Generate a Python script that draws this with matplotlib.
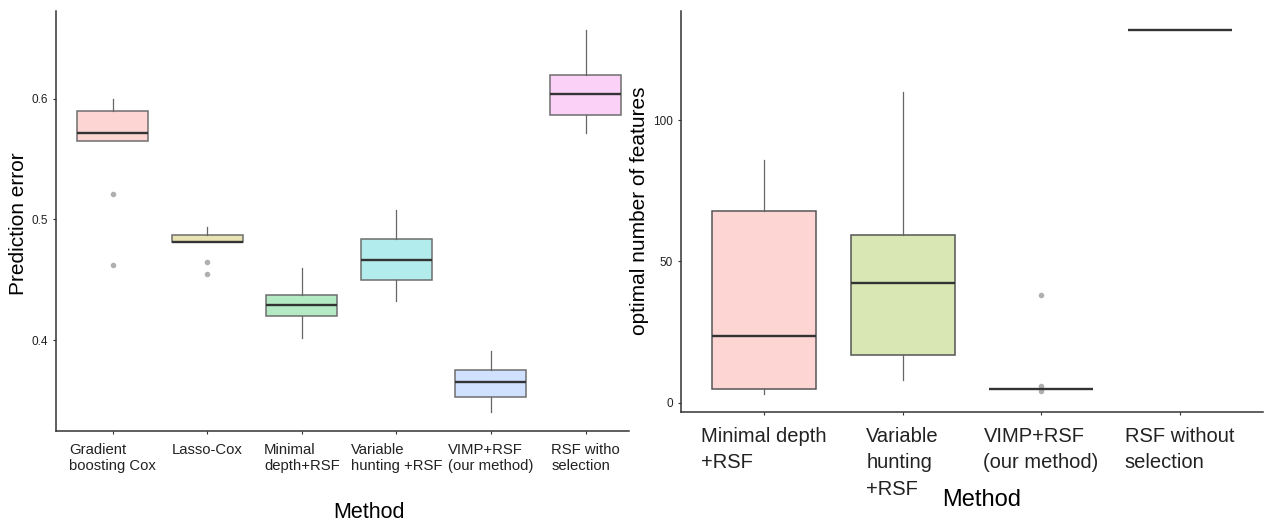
import matplotlib
matplotlib.use('Agg')
import matplotlib.pyplot as plt
from matplotlib import font_manager

# 字体：左图的刻度标签看起来是窄体
names = {f.name for f in font_manager.fontManager.ttflist}
narrow = 'Liberation Sans Narrow' if 'Liberation Sans Narrow' in names else None
plt.rcParams['font.family'] = ['Liberation Sans', 'DejaVu Sans']

# 左图：预测误差
left_methods = ['Gradient\nboosting Cox', 'Lasso-Cox', 'Minimal\ndepth+RSF',
                'Variable\nhunting +RSF', 'VIMP+RSF\n(our method)', 'RSF witho\nselection']
left_whislo = [0.565, 0.481, 0.402, 0.432, 0.340, 0.572]
left_q1 = [0.565, 0.481, 0.420, 0.450, 0.353, 0.587]
left_med = [0.572, 0.481, 0.429, 0.466, 0.365, 0.604]
left_q3 = [0.590, 0.487, 0.437, 0.484, 0.375, 0.620]
left_whishi = [0.600, 0.494, 0.460, 0.508, 0.391, 0.657]
left_fliers = [[0.521, 0.462], [0.4645, 0.4545], [], [], [], []]
left_colors = ['#F8766D', '#B79F00', '#00BA38', '#00BFC4', '#619CFF', '#F564E3']

# 右图：最优特征数
right_methods = ['Minimal depth\n+RSF', 'Variable\nhunting\n+RSF',
                 'VIMP+RSF\n(our method)', 'RSF without\nselection']
right_whislo = [3, 8, 5, 132]
right_q1 = [5, 17, 5, 132]
right_med = [23.5, 42.5, 5, 132]
right_q3 = [68, 59.5, 5, 132]
right_whishi = [86, 110, 5, 132]
right_fliers = [[], [], [38, 6, 4], []]
right_colors = ['#F8766D', '#7CAE00', '#00BFC4', '#C77CFF']


def blend(c, a=0.3):
    r, g, b = matplotlib.colors.to_rgb(c)
    return (1 - a + a * r, 1 - a + a * g, 1 - a + a * b)


def draw(ax, methods, lo, q1, med, q3, hi, fl, colors, edge):
    stats = []
    for i in range(len(methods)):
        stats.append(dict(whislo=lo[i], q1=q1[i], med=med[i], q3=q3[i],
                          whishi=hi[i], fliers=fl[i]))
    pos = list(range(1, len(methods) + 1))
    bp = ax.bxp(stats, positions=pos, widths=0.75, patch_artist=True,
                showcaps=False,
                boxprops=dict(edgecolor=edge, linewidth=1.1),
                whiskerprops=dict(color='#666666', linewidth=0.9),
                medianprops=dict(color='#333333', linewidth=1.7),
                flierprops=dict(marker='o', markersize=3.0, markerfacecolor='#b0b0b0',
                                markeredgecolor='#b0b0b0'))
    for patch, c in zip(bp['boxes'], colors):
        patch.set_facecolor(blend(c))
    for s in ['top', 'right']:
        ax.spines[s].set_visible(False)
    for s in ['left', 'bottom']:
        ax.spines[s].set_color('#333333')
        ax.spines[s].set_linewidth(1.1)
    ax.tick_params(length=2.5, color='#333333', labelcolor='#222222')
    ax.set_xticks(pos)
    ax.set_xticklabels(methods)
    for t in ax.get_xticklabels():
        t.set_multialignment('left')


fig = plt.figure(figsize=(12.66, 5.27), dpi=100)

ax1 = fig.add_axes([56 / 1266, 1 - 431 / 527, 573 / 1266, 420 / 527])
draw(ax1, left_methods, left_whislo, left_q1, left_med, left_q3, left_whishi,
     left_fliers, left_colors, '#6e6e6e')
ax1.set_xlim(0.4, 6.46)
ax1.set_ylim(0.3245, 0.673)
ax1.set_yticks([0.4, 0.5, 0.6])
ax1.set_yticklabels(['0.4', '0.5', '0.6'])
small_family = [narrow, 'Liberation Sans'] if narrow else ['Liberation Sans']
for t in ax1.get_xticklabels():
    t.set_fontfamily(small_family)
    t.set_fontsize(13 if narrow else 10.7)
for t in ax1.get_yticklabels():
    t.set_fontfamily(small_family)
    t.set_fontsize(9 if narrow else 8.5)
ax1.tick_params(axis='x', pad=6)
ax1.set_ylabel('Prediction error', fontsize=15)
ax1.yaxis.set_label_coords(-0.066, 0.493)
ax1.yaxis.label.set_va('center')
ax1.set_xlabel('Method', fontsize=15.5)
ax1.xaxis.set_label_coords(0.546, -0.207)
ax1.xaxis.label.set_va('baseline')

ax2 = fig.add_axes([681 / 1266, 1 - 412.3 / 527, 581.7 / 1266, 401.3 / 527])
draw(ax2, right_methods, right_whislo, right_q1, right_med, right_q3, right_whishi,
     right_fliers, right_colors, '#555555')
ax2.set_xlim(0.4, 4.6)
ax2.set_ylim(-3.4, 138.7)
ax2.set_yticks([0, 50, 100])
ax2.tick_params(axis='y', labelsize=8.5)
ax2.tick_params(axis='x', labelsize=14.5, pad=8)
for t in ax2.get_xticklabels():
    t.set_linespacing(1.5)
ax2.set_ylabel('optimal number of features', fontsize=15)
ax2.yaxis.set_label_coords(-0.0705, 0.5016)
ax2.yaxis.label.set_va('center')
ax2.set_xlabel('Method', fontsize=17)
ax2.xaxis.set_label_coords(0.517, -0.2335)
ax2.xaxis.label.set_va('baseline')

fig.savefig('out.png', dpi=100)
